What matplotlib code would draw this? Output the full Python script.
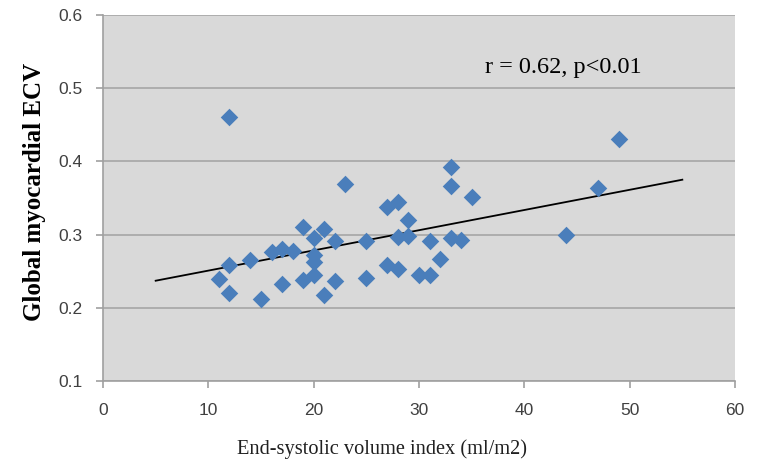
import matplotlib
matplotlib.use("Agg")
import matplotlib.pyplot as plt
import numpy as np

esvi = [11, 12, 12, 12, 14, 15, 16, 17, 17, 18, 19, 19, 20, 20, 20, 20, 21, 21,
        22, 22, 23, 25, 25, 27, 27, 28, 28, 28, 29, 29, 30, 31, 31, 32, 33, 33,
        33, 34, 35, 44, 47, 49]
ecv = [0.240, 0.460, 0.258, 0.220, 0.265, 0.212, 0.276, 0.280, 0.232, 0.277,
       0.310, 0.238, 0.295, 0.272, 0.263, 0.245, 0.307, 0.218, 0.291, 0.236,
       0.369, 0.291, 0.241, 0.338, 0.259, 0.297, 0.345, 0.253, 0.320, 0.298,
       0.245, 0.291, 0.245, 0.267, 0.392, 0.366, 0.295, 0.292, 0.351, 0.300,
       0.364, 0.430]
trend_x = [5, 55]
trend_y = [0.237, 0.375]
x_ticks = [0, 10, 20, 30, 40, 50, 60]
y_ticks = [0.1, 0.2, 0.3, 0.4, 0.5, 0.6]

fig = plt.figure(figsize=(7.58, 4.63), dpi=100)
ax = fig.add_axes([103/758, 82/463, 632/758, 366/463])
ax.set_facecolor("#d9d9d9")
ax.set_xlim(0, 60)
ax.set_ylim(0.1, 0.6)
ax.set_xticks(x_ticks)
ax.set_yticks(y_ticks)
ax.set_xticklabels([str(t) for t in x_ticks])
ax.set_yticklabels([f"{t:.1f}" for t in y_ticks])
ax.yaxis.grid(True, color="#a6a6a6", linewidth=1.2)
ax.set_axisbelow(True)
for s in ["top", "right"]:
    ax.spines[s].set_visible(False)
for s in ["left", "bottom"]:
    ax.spines[s].set_color("#a0a0a0")
    ax.spines[s].set_linewidth(1.2)
ax.tick_params(axis="both", colors="#a0a0a0", length=5, width=1.2,
               labelcolor="#404040", labelsize=12.5)
ax.tick_params(axis="x", pad=11)
ax.tick_params(axis="y", pad=10)
for lab in ax.get_xticklabels() + ax.get_yticklabels():
    lab.set_family("Liberation Sans")

ax.plot(trend_x, trend_y, color="black", linewidth=1.3, zorder=2)
ax.scatter(esvi, ecv, marker="D", s=80, color="#4a7ebb", zorder=3, linewidths=0)

ax.text(0.604, 0.842, "r = 0.62, p<0.01", transform=ax.transAxes,
        family="Liberation Serif", fontsize=17.5, color="black", va="baseline")
ax.set_xlabel("End-systolic volume index (ml/m2)", family="Liberation Serif",
              fontsize=14.7, color="#202020")
ax.xaxis.set_label_coords(0.441, -0.185)
ax.xaxis.label.set_va("center")
ax.set_ylabel("Global myocardial ECV", family="Liberation Serif",
              fontsize=18, fontweight="bold", color="black")
ax.yaxis.set_label_coords(-0.109, 0.516)
ax.yaxis.label.set_va("center")
fig.savefig("out.png", dpi=100)
